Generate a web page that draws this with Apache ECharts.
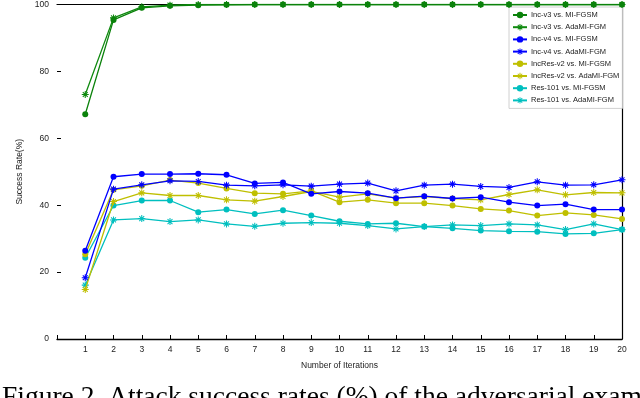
<!DOCTYPE html>
<html>
<head>
<meta charset="utf-8">
<script src="https://cdn.jsdelivr.net/npm/echarts@6/dist/echarts.min.js"></script>
<style>
  html, body { margin: 0; padding: 0; background: #fff; }
  #chart { width: 640px; height: 398px; }
</style>
</head>
<body>
<div id="chart"></div>
<script>
  // iterations 1..20
  const iterations = [1, 2, 3, 4, 5, 6, 7, 8, 9, 10, 11, 12, 13, 14, 15, 16, 17, 18, 19, 20]
  const yTicks = [0, 20, 40, 60, 80, 100]

  const incV3Mi = [67.2, 95.4, 99.0, 99.6, 99.8, 99.9, 100, 100, 100, 100, 100, 100, 100, 100, 100, 100, 100, 100, 100, 100]
  const incV3Ada = [73.1, 96.0, 99.3, 99.8, 100, 100, 100, 100, 100, 100, 100, 100, 100, 100, 100, 100, 100, 100, 100, 100]
  const incV4Mi = [26.4, 48.5, 49.3, 49.3, 49.4, 49.1, 46.5, 46.8, 43.4, 44.1, 43.6, 42.1, 42.7, 42.0, 42.4, 40.9, 39.9, 40.3, 38.7, 38.7]
  const incV4Ada = [18.3, 44.8, 46.1, 47.3, 47.1, 46.0, 45.8, 46.1, 45.7, 46.3, 46.6, 44.3, 46.0, 46.3, 45.6, 45.3, 47.0, 46.0, 46.1, 47.6]
  const incResMi = [25.3, 44.6, 45.8, 47.5, 46.6, 45.0, 43.6, 43.4, 44.3, 40.9, 41.6, 40.6, 40.6, 39.9, 38.9, 38.4, 36.9, 37.7, 37.1, 35.9]
  const incResAda = [14.8, 41.1, 43.7, 42.9, 42.9, 41.6, 41.2, 42.6, 44.1, 42.4, 43.4, 42.1, 42.6, 42.0, 41.6, 43.2, 44.6, 43.1, 43.8, 43.7]
  const res101Mi = [24.3, 39.9, 41.4, 41.4, 37.9, 38.7, 37.4, 38.5, 36.9, 35.2, 34.4, 34.6, 33.6, 33.1, 32.4, 32.2, 32.1, 31.4, 31.6, 32.7]
  const res101Ada = [16.1, 35.6, 36.0, 35.1, 35.6, 34.4, 33.7, 34.6, 34.8, 34.6, 33.9, 32.9, 33.6, 34.1, 33.9, 34.4, 34.1, 32.7, 34.4, 32.7]

  const names = [
    "Inc-v3 vs. MI-FGSM",
    "Inc-v3 vs. AdaMI-FGM",
    "Inc-v4 vs. MI-FGSM",
    "Inc-v4 vs. AdaMI-FGM",
    "IncRes-v2 vs. MI-FGSM",
    "IncRes-v2 vs. AdaMI-FGM",
    "Res-101 vs. MI-FGSM",
    "Res-101 vs. AdaMI-FGM",
  ]
  const values = [incV3Mi, incV3Ada, incV4Mi, incV4Ada, incResMi, incResAda, res101Mi, res101Ada]
  const colors = ["#0b820b", "#0f8a0f", "#0000ff", "#0000ff", "#bfbf00", "#bfbf00", "#00bfbf", "#00bfbf"]

  // matlab style '*' marker
  const asterisk = "path://M-0.15,-1L0.15,-1L0.15,1L-0.15,1Z" +
    "M-1,-0.15L1,-0.15L1,0.15L-1,0.15Z" +
    "M-0.594,-0.806L0.806,0.594L0.594,0.806L-0.806,-0.594Z" +
    "M-0.806,0.594L0.594,-0.806L0.806,-0.594L-0.594,0.806Z"

  const font = "Liberation Sans"

  const series = values.map((arr, i) => {
    const isStar = i % 2 === 1
    return {
      name: names[i],
      type: "line",
      xAxisIndex: 0,
      yAxisIndex: 0,
      data: iterations.map((x, k) => [x, arr[k]]),
      symbol: isStar ? asterisk : "circle",
      symbolSize: isStar ? 7 : 6,
      showAllSymbol: true,
      animation: false,
      lineStyle: { color: colors[i], width: 1.3 },
      itemStyle: { color: colors[i], borderWidth: 0 },
      z: 10 - i,
    }
  })

  const chart = echarts.init(document.getElementById("chart"), null, { renderer: "canvas" })
  chart.setOption({
    backgroundColor: "#fff",
    animation: false,
    grid: { left: 57, right: 18, top: 3, bottom: 59 },
    legend: {
      data: names,
      orient: "vertical",
      left: 509,
      top: 7,
      itemWidth: 14,
      itemHeight: 8,
      itemGap: 4.2,
      padding: [4, 3, 4, 3],
      backgroundColor: "#fff",
      borderColor: "#d0d0d0",
      borderWidth: 1,
      textStyle: { fontFamily: font, fontSize: 7.5, color: "#222", padding: [0, 0, 0, -1] },
    },
    xAxis: [
      {
        type: "value",
        min: 0,
        max: 20,
        interval: 1,
        name: "Number of Iterations",
        nameLocation: "middle",
        nameGap: 22,
        nameTextStyle: { fontFamily: font, fontSize: 8.5, color: "#222" },
        axisLine: { show: true, lineStyle: { color: "#000", width: 1.3 } },
        axisTick: { show: true, inside: true, length: 4, lineStyle: { color: "#000" } },
        axisLabel: {
          fontFamily: font,
          fontSize: 8.5,
          color: "#222",
          margin: 6,
          formatter: (v) => (v === 0 ? "" : String(v)),
        },
        splitLine: { show: false },
      },
      {
        type: "value",
        position: "top",
        min: 0,
        max: 20,
        axisLine: { show: true, onZero: false, lineStyle: { color: "#000", width: 1.2 } },
        axisTick: { show: false },
        axisLabel: { show: false },
        splitLine: { show: false },
      },
    ],
    yAxis: [
      {
        type: "value",
        min: yTicks[0],
        max: yTicks[yTicks.length - 1],
        interval: 20,
        name: "Success Rate(%)",
        nameLocation: "middle",
        nameGap: 25,
        nameTextStyle: { fontFamily: font, fontSize: 8.5, color: "#222" },
        axisLine: { show: false },
        axisTick: { show: true, inside: true, length: 4, lineStyle: { color: "#000" } },
        axisLabel: { fontFamily: font, fontSize: 8.5, color: "#222", margin: 8 },
        splitLine: { show: false },
      },
      {
        type: "value",
        position: "right",
        min: 0,
        max: 100,
        axisLine: { show: true, onZero: false, lineStyle: { color: "#000", width: 1.2 } },
        axisTick: { show: false },
        axisLabel: { show: false },
        splitLine: { show: false },
      },
    ],
    graphic: [
      {
        type: "text",
        left: 2,
        top: 384,
        silent: true,
        style: {
          text: "Figure 2. Attack success rates (%) of the adversarial examples",
          fontFamily: "Liberation Serif",
          fontSize: 27.5,
          fill: "#000",
        },
      },
    ],
    series: series,
  })
</script>
</body>
</html>
